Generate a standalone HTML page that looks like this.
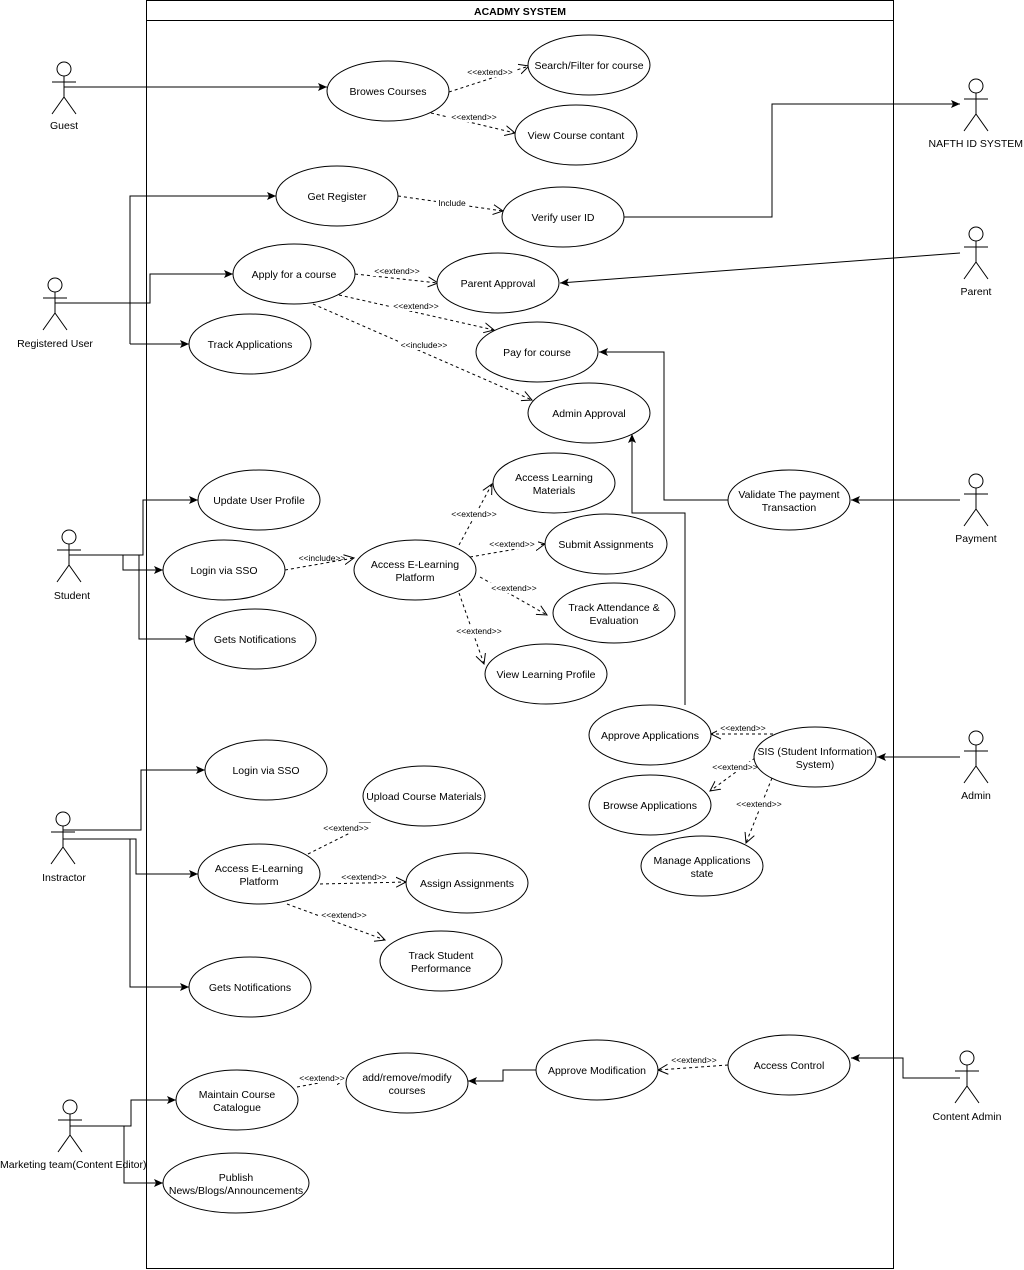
<!DOCTYPE html>
<html><head><meta charset="utf-8"><style>
html,body{margin:0;padding:0;background:#fff;}
svg{display:block;}
text{font-family:"Liberation Sans",Arial,sans-serif;font-size:10.5px;fill:#000;}
.l{font-size:8.5px;}
</style></head><body>
<svg width="1024" height="1270" viewBox="0 0 1024 1270" xmlns="http://www.w3.org/2000/svg">
<defs>
<marker id="f" markerWidth="10" markerHeight="10" refX="9" refY="5" orient="auto" markerUnits="userSpaceOnUse"><path d="M0,1 L9,5 L0,9 L2,5 z" fill="#000"/></marker>
<marker id="o" markerWidth="12" markerHeight="12" refX="10" refY="6" orient="auto" markerUnits="userSpaceOnUse"><path d="M0,1 L10,6 L0,11" fill="none" stroke="#000" stroke-width="1"/></marker>
</defs>
<rect x="146.5" y="0.5" width="747" height="1268" fill="#fff" stroke="#000"/>
<line x1="146" y1="20.5" x2="893" y2="20.5" stroke="#000"/>
<text x="520" y="15" text-anchor="middle" font-weight="bold">ACADMY SYSTEM</text>

<g fill="none" stroke="#000" stroke-width="1">
<polyline points="64,87 327,87" marker-end="url(#f)"/>
<polyline points="55,303 150,303 150,274 233,274" marker-end="url(#f)"/>
<polyline points="130,344 130,196 276,196" marker-end="url(#f)"/>
<polyline points="130,344 189,344" marker-end="url(#f)"/>
<polyline points="69,555 143,555 143,500 198,500" marker-end="url(#f)"/>
<polyline points="69,555 123,555 123,570 163,570" marker-end="url(#f)"/>
<polyline points="139,555 139,639 194,639" marker-end="url(#f)"/>
<polyline points="63,830 141,830 141,770 205,770" marker-end="url(#f)"/>
<polyline points="63,839 136,839 136,874 198,874" marker-end="url(#f)"/>
<polyline points="130,839 130,987 189,987" marker-end="url(#f)"/>
<polyline points="70,1126 131,1126 131,1100 176,1100" marker-end="url(#f)"/>
<polyline points="124,1126 124,1183 163,1183" marker-end="url(#f)"/>
<polyline points="624,217 772,217 772,104 960,104" marker-end="url(#f)"/>
<polyline points="960,253 560,283" marker-end="url(#f)"/>
<polyline points="960,500 851,500" marker-end="url(#f)"/>
<polyline points="728,500 664,500 664,352 599,352" marker-end="url(#f)"/>
<polyline points="685,705 685,513 632,513 632,434" marker-end="url(#f)"/>
<polyline points="960,757 877,757" marker-end="url(#f)"/>
<polyline points="960,1078 903,1078 903,1058 851,1058" marker-end="url(#f)"/>
<polyline points="536,1070 503,1070 503,1081 468,1081" marker-end="url(#f)"/>
</g>
<g fill="none" stroke="#000" stroke-width="1" stroke-dasharray="3,3">
<line x1="449" y1="92" x2="529" y2="66" marker-end="url(#o)"/>
<line x1="431" y1="113" x2="515" y2="133" marker-end="url(#o)"/>
<line x1="398" y1="196" x2="503" y2="211" marker-end="url(#o)"/>
<line x1="355" y1="274" x2="438" y2="283" marker-end="url(#o)"/>
<line x1="339" y1="295" x2="494" y2="330" marker-end="url(#o)"/>
<line x1="313" y1="304" x2="532" y2="400" marker-end="url(#o)"/>
<line x1="285" y1="570" x2="354" y2="558" marker-end="url(#o)"/>
<line x1="459" y1="545" x2="492" y2="484" marker-end="url(#o)"/>
<line x1="470" y1="557" x2="545" y2="544" marker-end="url(#o)"/>
<line x1="480" y1="577" x2="547" y2="615" marker-end="url(#o)"/>
<line x1="459" y1="593" x2="484" y2="664" marker-end="url(#o)"/>
<line x1="773" y1="734" x2="711" y2="734" marker-end="url(#o)"/>
<line x1="755" y1="758" x2="710" y2="791" marker-end="url(#o)"/>
<line x1="772" y1="778" x2="746" y2="843" marker-end="url(#o)"/>
<line x1="308" y1="854" x2="370" y2="823" marker-end="url(#o)"/>
<line x1="320" y1="884" x2="406" y2="882" marker-end="url(#o)"/>
<line x1="287" y1="904" x2="385" y2="940" marker-end="url(#o)"/>
<line x1="728" y1="1065" x2="658" y2="1070" marker-end="url(#o)"/>
<line x1="297" y1="1087" x2="346" y2="1078" marker-end="url(#o)"/>
</g>
<g>
<rect x="464" y="67" width="52" height="10" fill="#fff"/><text class="l" x="490" y="75" text-anchor="middle">&lt;&lt;extend&gt;&gt;</text>
<rect x="448" y="112" width="52" height="10" fill="#fff"/><text class="l" x="474" y="120" text-anchor="middle">&lt;&lt;extend&gt;&gt;</text>
<rect x="436" y="198" width="32" height="10" fill="#fff"/><text class="l" x="452" y="206" text-anchor="middle">Include</text>
<rect x="371" y="266" width="52" height="10" fill="#fff"/><text class="l" x="397" y="274" text-anchor="middle">&lt;&lt;extend&gt;&gt;</text>
<rect x="390" y="301" width="52" height="10" fill="#fff"/><text class="l" x="416" y="309" text-anchor="middle">&lt;&lt;extend&gt;&gt;</text>
<rect x="398" y="340" width="52" height="10" fill="#fff"/><text class="l" x="424" y="348" text-anchor="middle">&lt;&lt;include&gt;&gt;</text>
<text class="l" x="322" y="561" text-anchor="middle">&lt;&lt;include&gt;&gt;</text>
<rect x="448" y="509" width="52" height="10" fill="#fff"/><text class="l" x="474" y="517" text-anchor="middle">&lt;&lt;extend&gt;&gt;</text>
<rect x="486" y="539" width="52" height="10" fill="#fff"/><text class="l" x="512" y="547" text-anchor="middle">&lt;&lt;extend&gt;&gt;</text>
<rect x="488" y="583" width="52" height="10" fill="#fff"/><text class="l" x="514" y="591" text-anchor="middle">&lt;&lt;extend&gt;&gt;</text>
<rect x="453" y="626" width="52" height="10" fill="#fff"/><text class="l" x="479" y="634" text-anchor="middle">&lt;&lt;extend&gt;&gt;</text>
<rect x="717" y="723" width="52" height="10" fill="#fff"/><text class="l" x="743" y="731" text-anchor="middle">&lt;&lt;extend&gt;&gt;</text>
<rect x="709" y="762" width="52" height="10" fill="#fff"/><text class="l" x="735" y="770" text-anchor="middle">&lt;&lt;extend&gt;&gt;</text>
<rect x="733" y="799" width="52" height="10" fill="#fff"/><text class="l" x="759" y="807" text-anchor="middle">&lt;&lt;extend&gt;&gt;</text>
<rect x="320" y="823" width="52" height="10" fill="#fff"/><text class="l" x="346" y="831" text-anchor="middle">&lt;&lt;extend&gt;&gt;</text>
<rect x="338" y="872" width="52" height="10" fill="#fff"/><text class="l" x="364" y="880" text-anchor="middle">&lt;&lt;extend&gt;&gt;</text>
<rect x="318" y="910" width="52" height="10" fill="#fff"/><text class="l" x="344" y="918" text-anchor="middle">&lt;&lt;extend&gt;&gt;</text>
<rect x="668" y="1055" width="52" height="10" fill="#fff"/><text class="l" x="694" y="1063" text-anchor="middle">&lt;&lt;extend&gt;&gt;</text>
<rect x="296" y="1073" width="52" height="10" fill="#fff"/><text class="l" x="322" y="1081" text-anchor="middle">&lt;&lt;extend&gt;&gt;</text>
</g>

<g fill="#fff" stroke="#000" stroke-width="1">
<ellipse cx="388" cy="91" rx="61" ry="30"/>
<ellipse cx="589" cy="65" rx="61" ry="30"/>
<ellipse cx="576" cy="135" rx="61" ry="30"/>
<ellipse cx="337" cy="196" rx="61" ry="30"/>
<ellipse cx="563" cy="217" rx="61" ry="30"/>
<ellipse cx="294" cy="274" rx="61" ry="30"/>
<ellipse cx="498" cy="283" rx="61" ry="30"/>
<ellipse cx="537" cy="352" rx="61" ry="30"/>
<ellipse cx="250" cy="344" rx="61" ry="30"/>
<ellipse cx="589" cy="413" rx="61" ry="30"/>
<ellipse cx="259" cy="500" rx="61" ry="30"/>
<ellipse cx="224" cy="570" rx="61" ry="30"/>
<ellipse cx="415" cy="570" rx="61" ry="30"/>
<ellipse cx="554" cy="483" rx="61" ry="30"/>
<ellipse cx="606" cy="544" rx="61" ry="30"/>
<ellipse cx="614" cy="613" rx="61" ry="30"/>
<ellipse cx="546" cy="674" rx="61" ry="30"/>
<ellipse cx="255" cy="639" rx="61" ry="30"/>
<ellipse cx="789" cy="500" rx="61" ry="30"/>
<ellipse cx="650" cy="735" rx="61" ry="30"/>
<ellipse cx="815" cy="757" rx="61" ry="30"/>
<ellipse cx="650" cy="805" rx="61" ry="30"/>
<ellipse cx="702" cy="866" rx="61" ry="30"/>
<ellipse cx="266" cy="770" rx="61" ry="30"/>
<ellipse cx="424" cy="796" rx="61" ry="30"/>
<ellipse cx="259" cy="874" rx="61" ry="30"/>
<ellipse cx="467" cy="883" rx="61" ry="30"/>
<ellipse cx="441" cy="961" rx="61" ry="30"/>
<ellipse cx="250" cy="987" rx="61" ry="30"/>
<ellipse cx="597" cy="1070" rx="61" ry="30"/>
<ellipse cx="789" cy="1065" rx="61" ry="30"/>
<ellipse cx="407" cy="1083" rx="61" ry="30"/>
<ellipse cx="237" cy="1100" rx="61" ry="30"/>
<ellipse cx="236" cy="1183" rx="73" ry="30"/>
</g>
<g text-anchor="middle">
<text x="388" y="95">Browes Courses</text>
<text x="589" y="69">Search/Filter for course</text>
<text x="576" y="139">View Course contant</text>
<text x="337" y="200">Get Register</text>
<text x="563" y="221">Verify user ID</text>
<text x="294" y="278">Apply for a course</text>
<text x="498" y="287">Parent Approval</text>
<text x="537" y="356">Pay for course</text>
<text x="250" y="348">Track Applications</text>
<text x="589" y="417">Admin Approval</text>
<text x="259" y="504">Update User Profile</text>
<text x="224" y="574">Login via SSO</text>
<text x="415" y="568">Access E-Learning</text><text x="415" y="581">Platform</text>
<text x="554" y="481">Access Learning</text><text x="554" y="494">Materials</text>
<text x="606" y="548">Submit Assignments</text>
<text x="614" y="611">Track Attendance &amp;</text><text x="614" y="624">Evaluation</text>
<text x="546" y="678">View Learning Profile</text>
<text x="255" y="643">Gets Notifications</text>
<text x="789" y="498">Validate The payment</text><text x="789" y="511">Transaction</text>
<text x="650" y="739">Approve Applications</text>
<text x="815" y="755">SIS (Student Information</text><text x="815" y="768">System)</text>
<text x="650" y="809">Browse Applications</text>
<text x="702" y="864">Manage Applications</text><text x="702" y="877">state</text>
<text x="266" y="774">Login via SSO</text>
<text x="424" y="800">Upload Course Materials</text>
<text x="259" y="872">Access E-Learning</text><text x="259" y="885">Platform</text>
<text x="467" y="887">Assign Assignments</text>
<text x="441" y="959">Track Student</text><text x="441" y="972">Performance</text>
<text x="250" y="991">Gets Notifications</text>
<text x="597" y="1074">Approve Modification</text>
<text x="789" y="1069">Access Control</text>
<text x="407" y="1081">add/remove/modify</text><text x="407" y="1094">courses</text>
<text x="237" y="1098">Maintain Course</text><text x="237" y="1111">Catalogue</text>
<text x="236" y="1181">Publish</text><text x="236" y="1194">News/Blogs/Announcements</text>
</g>

<g fill="#fff" stroke="#000" stroke-width="1">
<g transform="translate(64,69)"><circle cx="0" cy="0" r="7"/><path d="M0,7 V28 M-12,13 H12 M0,28 L-12,45 M0,28 L12,45" fill="none"/></g>
<g transform="translate(55,285)"><circle cx="0" cy="0" r="7"/><path d="M0,7 V28 M-12,13 H12 M0,28 L-12,45 M0,28 L12,45" fill="none"/></g>
<g transform="translate(69,537)"><circle cx="0" cy="0" r="7"/><path d="M0,7 V28 M-12,13 H12 M0,28 L-12,45 M0,28 L12,45" fill="none"/></g>
<g transform="translate(63,819)"><circle cx="0" cy="0" r="7"/><path d="M0,7 V28 M-12,13 H12 M0,28 L-12,45 M0,28 L12,45" fill="none"/></g>
<g transform="translate(70,1107)"><circle cx="0" cy="0" r="7"/><path d="M0,7 V28 M-12,13 H12 M0,28 L-12,45 M0,28 L12,45" fill="none"/></g>
<g transform="translate(976,86)"><circle cx="0" cy="0" r="7"/><path d="M0,7 V28 M-12,13 H12 M0,28 L-12,45 M0,28 L12,45" fill="none"/></g>
<g transform="translate(976,234)"><circle cx="0" cy="0" r="7"/><path d="M0,7 V28 M-12,13 H12 M0,28 L-12,45 M0,28 L12,45" fill="none"/></g>
<g transform="translate(976,481)"><circle cx="0" cy="0" r="7"/><path d="M0,7 V28 M-12,13 H12 M0,28 L-12,45 M0,28 L12,45" fill="none"/></g>
<g transform="translate(976,738)"><circle cx="0" cy="0" r="7"/><path d="M0,7 V28 M-12,13 H12 M0,28 L-12,45 M0,28 L12,45" fill="none"/></g>
<g transform="translate(967,1058)"><circle cx="0" cy="0" r="7"/><path d="M0,7 V28 M-12,13 H12 M0,28 L-12,45 M0,28 L12,45" fill="none"/></g>
</g>
<g text-anchor="middle">
<text x="64" y="129">Guest</text>
<text x="55" y="347">Registered User</text>
<text x="72" y="599">Student</text>
<text x="64" y="881">Instractor</text>
<text x="0" y="1168" text-anchor="start">Marketing team(Content Editor)</text>
<text x="1023" y="147" text-anchor="end">NAFTH ID SYSTEM</text>
<text x="976" y="295">Parent</text>
<text x="976" y="542">Payment</text>
<text x="976" y="799">Admin</text>
<text x="967" y="1120">Content Admin</text>
</g>
</svg>
</body></html>
